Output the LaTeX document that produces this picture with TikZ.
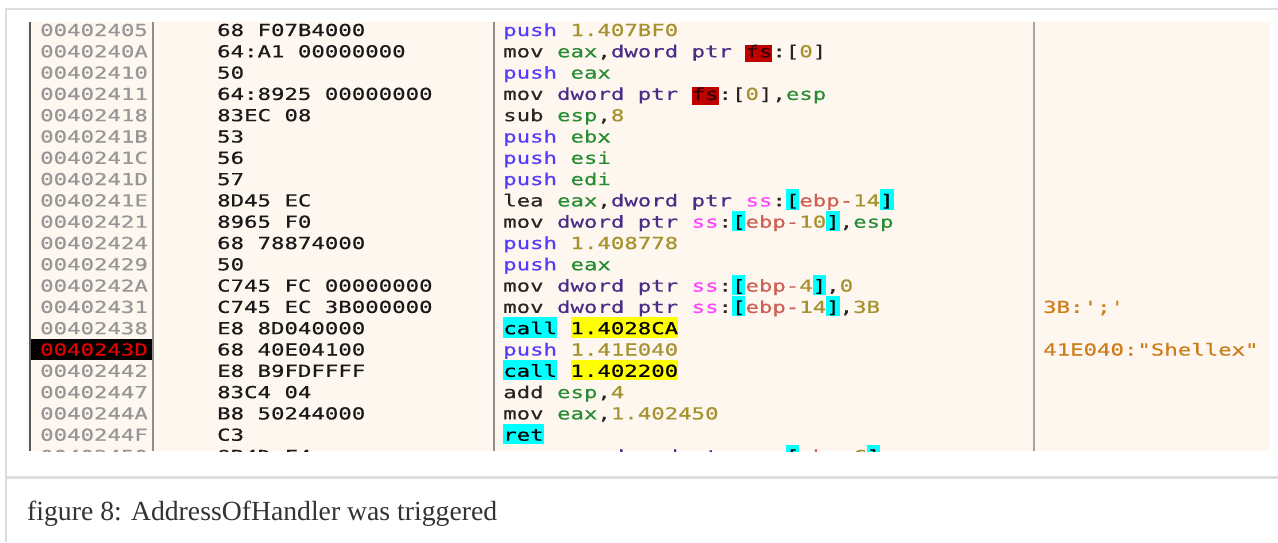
\documentclass[tikz,border=0pt]{standalone}
\usepackage{fontspec}
\setmainfont{Liberation Serif}
\newfontfamily\dbgfont{DejaVu Sans Mono}[FakeStretch=1.355,FakeBold=0.5,Ligatures=TeXOff]

\definecolor{panelbg}{RGB}{254,247,240}
\definecolor{framegray}{RGB}{221,221,221}
\definecolor{rulegray}{RGB}{140,140,140}
\definecolor{addrgray}{RGB}{150,150,150}
\definecolor{bytecol}{RGB}{25,25,25}
\definecolor{pushcol}{RGB}{85,60,250}
\definecolor{mnemcol}{RGB}{45,35,30}
\definecolor{regcol}{RGB}{40,140,50}
\definecolor{sizecol}{RGB}{75,45,135}
\definecolor{numcol}{RGB}{165,145,45}
\definecolor{segcol}{RGB}{255,70,255}
\definecolor{basecol}{RGB}{205,95,85}
\definecolor{fsbg}{RGB}{190,0,0}
\definecolor{cellcyan}{RGB}{0,255,255}
\definecolor{cellyellow}{RGB}{255,255,0}
\definecolor{commcol}{RGB}{205,125,25}
\definecolor{captcol}{RGB}{51,51,51}
\definecolor{hiaddr}{RGB}{230,0,0}

\newcommand\op[1]{\textcolor{pushcol}{#1}}
\newcommand\mn[1]{\textcolor{mnemcol}{#1}}
\newcommand\rg[1]{\textcolor{regcol}{#1}}
\newcommand\nm[1]{\textcolor{numcol}{#1}}
\newcommand\sz[1]{\textcolor{sizecol}{#1}}
\newcommand\sg[1]{\textcolor{segcol}{#1}}
\newcommand\bp[1]{\textcolor{basecol}{#1}}
\newcommand\cell[2]{{\fboxsep=0pt\colorbox{#1}{\rule[-3.5pt]{0pt}{20.5pt}\textcolor{black}{#2}}}}
\newcommand\lbk{\cell{cellcyan}{[}}
\newcommand\rbk{\cell{cellcyan}{]}}
\newcommand\fsreg{{\fboxsep=0pt\colorbox{fsbg}{\rule[-5pt]{0pt}{17pt}\textcolor{black!80!red}{fs}}}}
\newcommand\mem[1]{\sg{ss}:\lbk\bp{ebp-}\nm{#1}\rbk}

\begin{document}
\begin{tikzpicture}[x=1pt, y=-1pt, every node/.style={inner sep=0pt, anchor=base west},
  mono/.style={font=\dbgfont\fontsize{16.5}{20}\selectfont},
  addr/.style={mono, text=addrgray},
  bytes/.style={mono, text=bytecol},
  asm/.style={mono, text=mnemcol},
  comm/.style={mono, text=commcol},
  caption/.style={font=\fontsize{27.7}{32}\selectfont, text=captcol}]
\useasboundingbox (0,0) rectangle (1278,542);
\fill[white] (0,0) rectangle (1278,542);

\fill[panelbg] (27,22) rectangle (1270,451);
\fill[black] (30,339) rectangle (152,360);
\draw[black!65, line width=2pt] (30,22) -- (30,451);
\draw[rulegray, line width=1.5pt] (153,22) -- (153,451);
\draw[rulegray, line width=2pt] (494,22) -- (494,451);
\draw[rulegray!80, line width=2pt] (1034,22) -- (1034,451);

\begin{scope}
\clip (27,22) rectangle (1270,451);
\foreach \a/\b [count=\i from 0] in {00402405/68 F07B4000, 0040240A/64:A1 00000000,
    00402410/50, 00402411/64:8925 00000000, 00402418/83EC 08, 0040241B/53, 0040241C/56,
    0040241D/57, 0040241E/8D45 EC, 00402421/8965 F0, 00402424/68 78874000, 00402429/50,
    0040242A/C745 FC 00000000, 00402431/C745 EC 3B000000, 00402438/E8 8D040000,
    0040243D/68 40E04100, 00402442/E8 B9FDFFFF, 00402447/83C4 04, 0040244A/B8 50244000,
    0040244F/C3, 00402450/8B4D F4} {
  \ifnum\i=15\relax
    \node[addr, text=hiaddr] (a\i) at (40,{36+21.3*\i}) {\a};
  \else
    \node[addr] (a\i) at (40,{36+21.3*\i}) {\a};
  \fi
  \node[bytes] (b\i) at (217,{36+21.3*\i}) {\b};
}

\node[asm] (d0) at (503,36) {\op{push} \nm{1.407BF0}};
\node[asm] (d1) at (503,57.3) {\mn{mov} \rg{eax},\sz{dword ptr} \fsreg:[\nm{0}]};
\node[asm] (d2) at (503,78.6) {\op{push} \rg{eax}};
\node[asm] (d3) at (503,99.9) {\mn{mov} \sz{dword ptr} \fsreg:[\nm{0}],\rg{esp}};
\node[asm] (d4) at (503,121.2) {\mn{sub} \rg{esp},\nm{8}};
\node[asm] (d5) at (503,142.5) {\op{push} \rg{ebx}};
\node[asm] (d6) at (503,163.8) {\op{push} \rg{esi}};
\node[asm] (d7) at (503,185.1) {\op{push} \rg{edi}};
\node[asm] (d8) at (503,206.4) {\mn{lea} \rg{eax},\sz{dword ptr} \mem{14}};
\node[asm] (d9) at (503,227.7) {\mn{mov} \sz{dword ptr} \mem{10},\rg{esp}};
\node[asm] (d10) at (503,249) {\op{push} \nm{1.408778}};
\node[asm] (d11) at (503,270.3) {\op{push} \rg{eax}};
\node[asm] (d12) at (503,291.6) {\mn{mov} \sz{dword ptr} \mem{4},\nm{0}};
\node[asm] (d13) at (503,312.9) {\mn{mov} \sz{dword ptr} \mem{14},\nm{3B}};
\node[asm] (d14) at (503,334.2) {\cell{cellcyan}{call} \cell{cellyellow}{1.4028CA}};
\node[asm] (d15) at (503,355.5) {\op{push} \nm{1.41E040}};
\node[asm] (d16) at (503,376.8) {\cell{cellcyan}{call} \cell{cellyellow}{1.402200}};
\node[asm] (d17) at (503,398.1) {\mn{add} \rg{esp},\nm{4}};
\node[asm] (d18) at (503,419.4) {\mn{mov} \rg{eax},\nm{1.402450}};
\node[asm] (d19) at (503,440.7) {\cell{cellcyan}{ret}};
\node[asm] (d20) at (503,462) {\mn{mov} \rg{ecx},\sz{dword ptr} \mem{C}};

\node[comm] (c13) at (1043,312.9) {3B:';'};
\node[comm] (c15) at (1043,355.5) {41E040:"Shellex"};
\end{scope}

% frame and caption strip
\draw[framegray, line width=2.5pt] (6,542) -- (6,9) -- (1278,9);
\draw[framegray, line width=3pt] (6,477.5) -- (1278,477.5);
\node[caption] (cap) at (27,520) {figure 8: AddressOfHandler was triggered};
\end{tikzpicture}
\end{document}
